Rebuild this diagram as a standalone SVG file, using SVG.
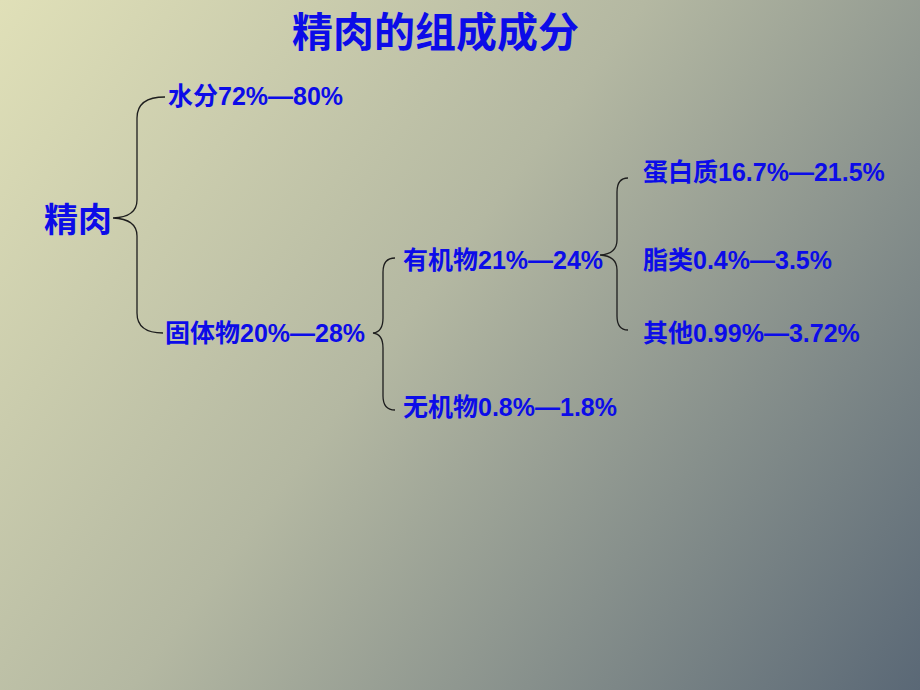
<svg xmlns="http://www.w3.org/2000/svg" width="920" height="690" viewBox="0 0 920 690">
<defs>
<linearGradient id="bg" x1="0" y1="0" x2="920" y2="690" gradientUnits="userSpaceOnUse">
<stop offset="0" stop-color="#e0e0b8"/>
<stop offset="0.45" stop-color="#b4b8a2"/>
<stop offset="1" stop-color="#5a6876"/>
</linearGradient>
<style>
text{font-family:"Liberation Sans","Noto Sans CJK SC",sans-serif;font-weight:bold;fill:#0c0ce8;}
.t{font-size:25px;}
.brace{fill:none;stroke:#1e1e1e;stroke-width:1.3;}
</style>
</defs>
<rect width="920" height="690" fill="url(#bg)"/>
<g id="title"><text x="292" y="47" style="font-size:41px">精肉的组成成分</text></g>
<g id="connectors">
<path class="brace" d="M165,97 Q137,97 137,118 L137,200 Q137,217 113,218 Q137,219 137,236 L137,313 Q137,333 163,333"/>
<path class="brace" d="M395,258 Q383,258 383,272 L383,318 Q383,332 373,333 Q383,334 383,348 L383,396 Q383,410 395,410"/>
<path class="brace" d="M628,178 Q617,178 617,192 L617,240 Q617,254 600,255 Q617,256 617,270 L617,316 Q617,330 628,330"/>
</g>
<g id="n-jingrou"><text x="44" y="232" style="font-size:34px">精肉</text></g>
<g id="n-water"><text class="t" x="168" y="105">水分72%—80%</text></g>
<g id="n-solid"><text class="t" x="165" y="342">固体物20%—28%</text></g>
<g id="n-organic"><text class="t" x="403" y="269">有机物21%—24%</text></g>
<g id="n-inorganic"><text class="t" x="403" y="416">无机物0.8%—1.8%</text></g>
<g id="n-protein"><text class="t" x="643" y="181">蛋白质16.7%—21.5%</text></g>
<g id="n-fat"><text class="t" x="643" y="269">脂类0.4%—3.5%</text></g>
<g id="n-other"><text class="t" x="643" y="342">其他0.99%—3.72%</text></g>
</svg>
